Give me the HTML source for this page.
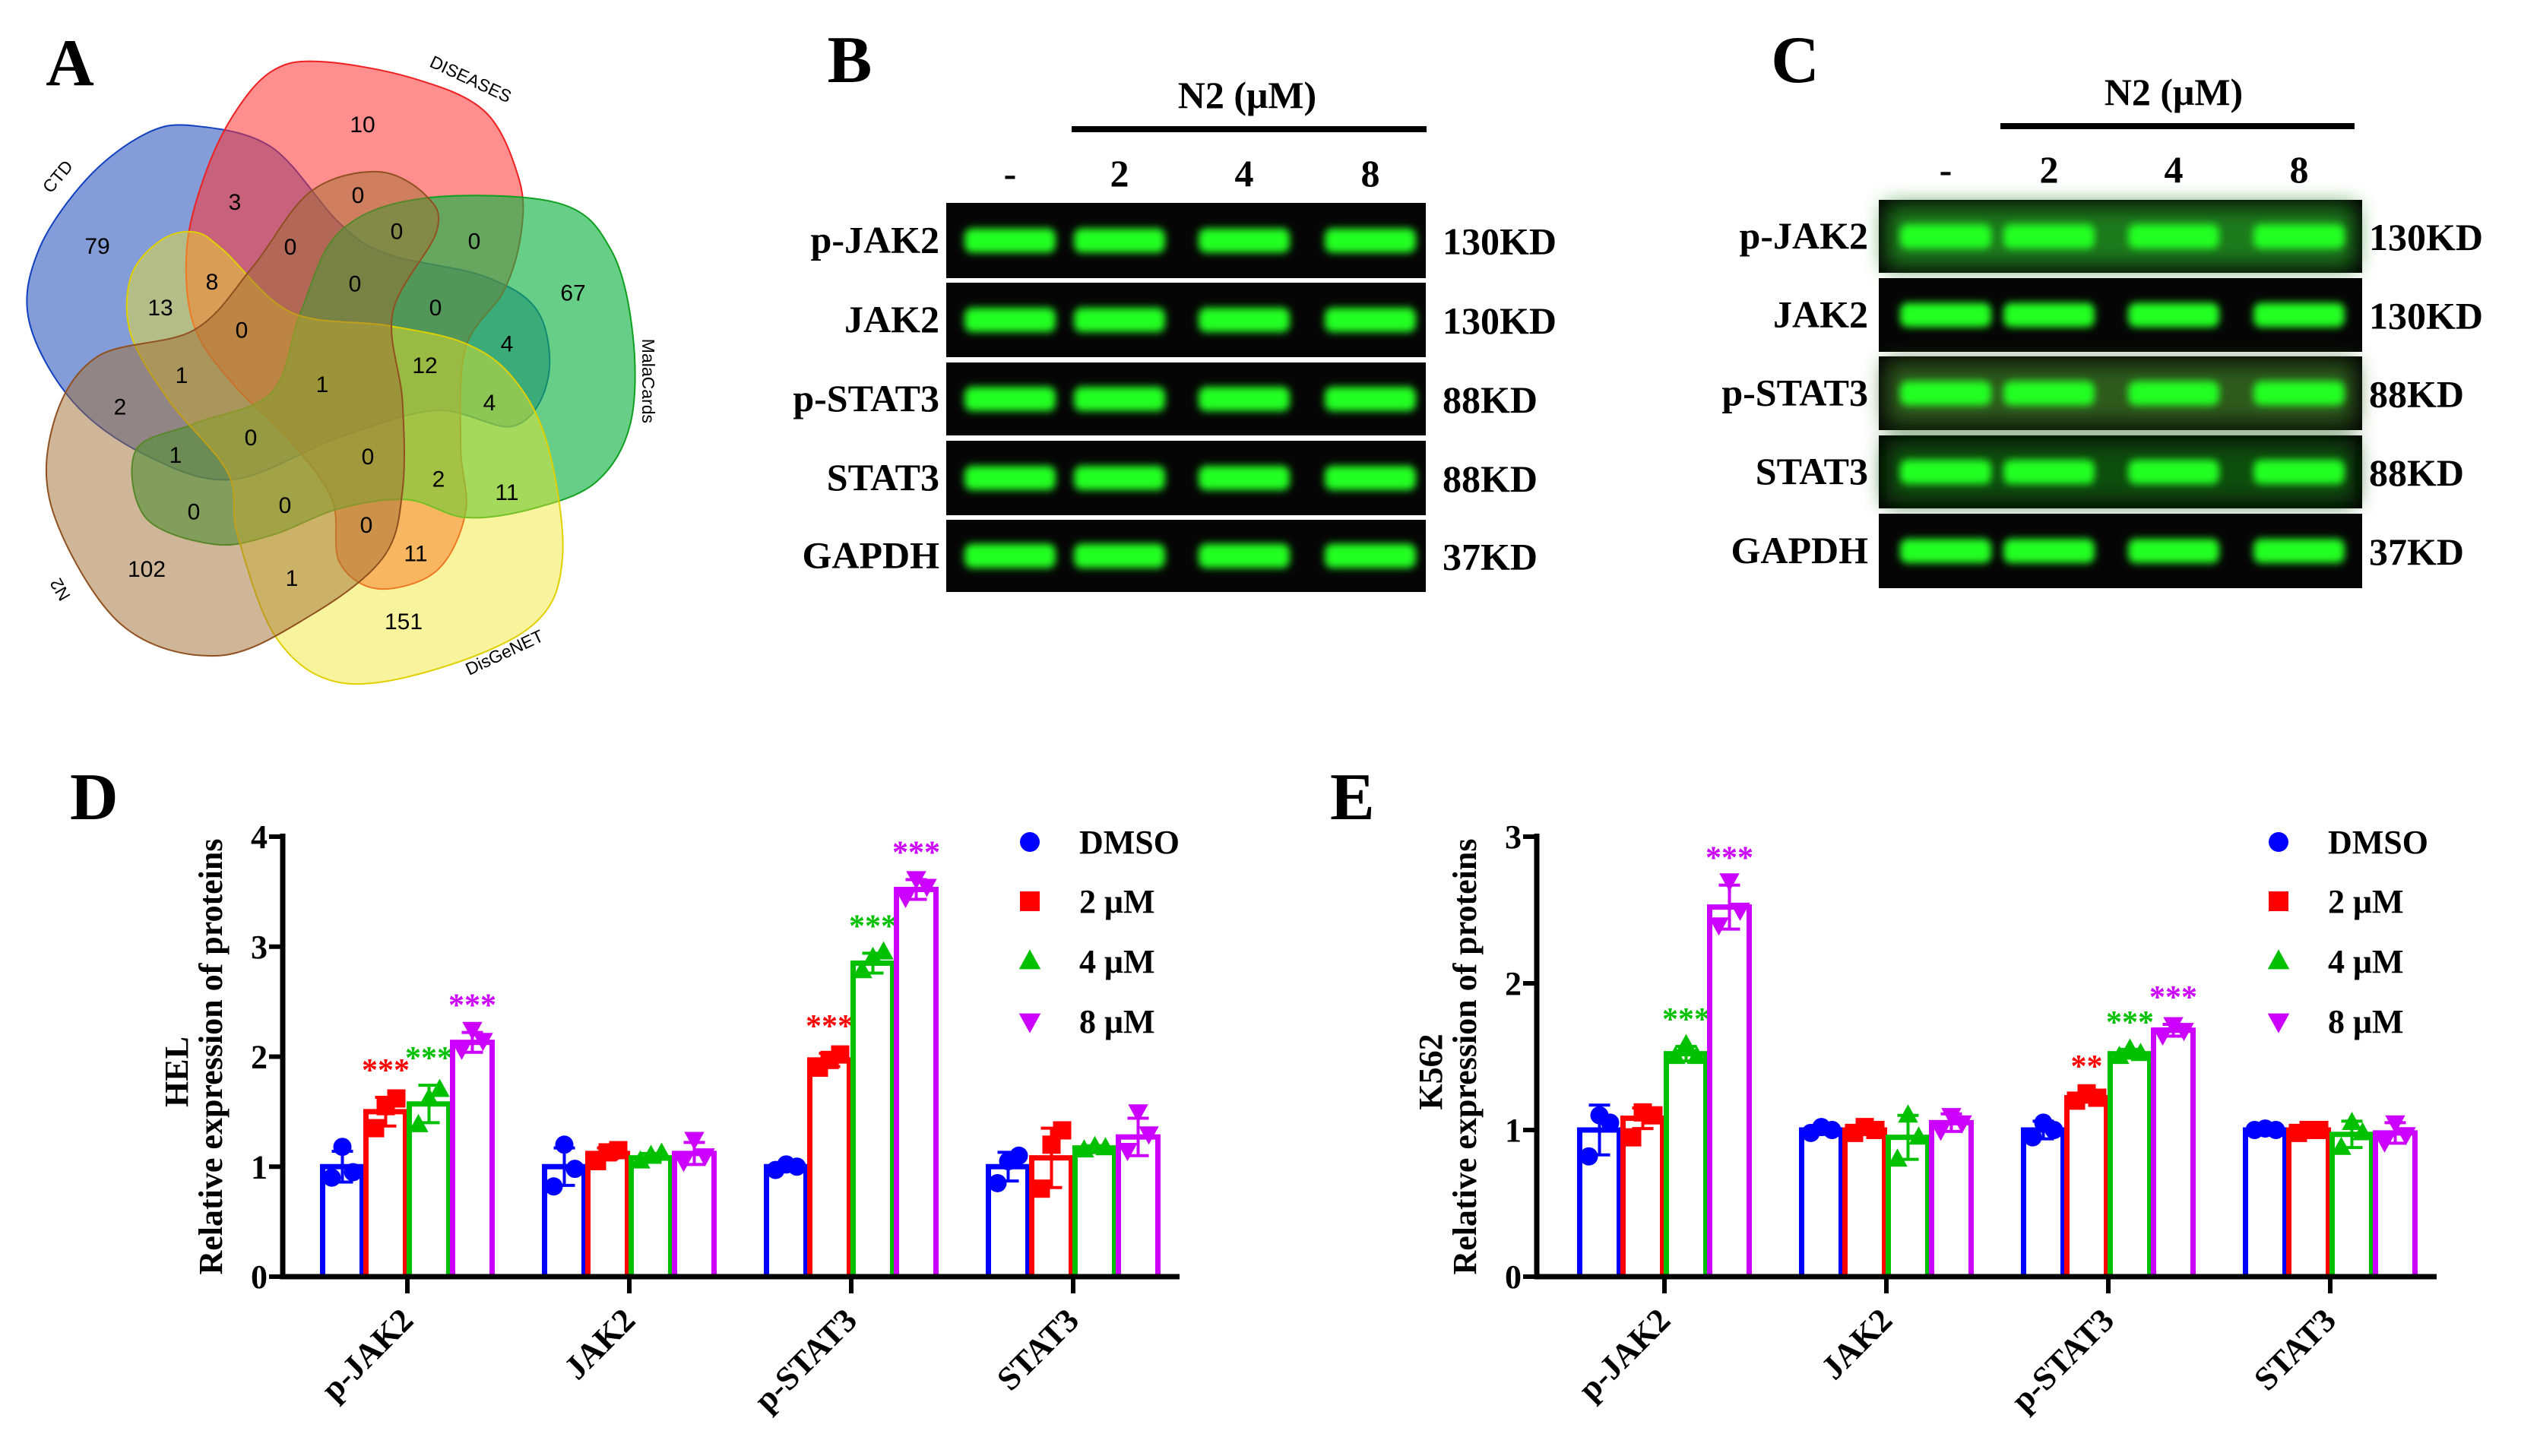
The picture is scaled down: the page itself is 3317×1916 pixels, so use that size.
<!DOCTYPE html>
<html><head><meta charset="utf-8"><style>
html,body{margin:0;padding:0;background:#fff}
svg{display:block}
text{font-family:"Liberation Serif",serif;font-weight:bold}
.v{font-family:"Liberation Sans",sans-serif;font-weight:normal}
</style></head><body>
<svg id="fig" width="3317" height="1916" viewBox="0 0 3317 1916" xmlns="http://www.w3.org/2000/svg">
<defs>
<filter id="blur" x="-20%" y="-50%" width="140%" height="200%"><feGaussianBlur stdDeviation="5"/></filter>
<filter id="blur2" x="-20%" y="-50%" width="140%" height="200%"><feGaussianBlur stdDeviation="14"/></filter>
</defs>
<g id="venn"></g>
<g id="blots"></g>
<g id="chartD"></g>
<g id="chartE"></g>
</svg>
<script>
const NS="http://www.w3.org/2000/svg";
function mk(parent,tag,attrs,txt){const e=document.createElementNS(NS,tag);for(const k in attrs)e.setAttribute(k,attrs[k]);if(txt!==undefined)e.textContent=txt;parent.appendChild(e);return e;}

// ---------- Chart data ----------
const categories=["p-JAK2","JAK2","p-STAT3","STAT3"];
const groups=["DMSO","2 μM","4 μM","8 μM"];
const colors=["#0000ff","#ff0000","#00c000","#cc00ff"];
const helMeans=[[1.0,1.5,1.57,2.13],[1.0,1.12,1.08,1.12],[1.0,1.97,2.85,3.52],[1.0,1.08,1.17,1.27]];
const helErr=[[0.14,0.13,0.17,0.09],[0.17,0.05,0.04,0.1],[0.03,0.06,0.09,0.09],[0.13,0.27,0.02,0.17]];
const helPoints=[[[0.9,1.18,0.95],[1.35,1.55,1.62],[1.38,1.62,1.7],[2.07,2.25,2.15]],
[[0.82,1.2,0.98],[1.05,1.13,1.15],[1.05,1.1,1.12],[1.05,1.25,1.1]],
[[0.97,1.02,1.0],[1.9,1.97,2.02],[2.78,2.9,2.95],[3.45,3.62,3.55]],
[[0.85,1.05,1.1],[0.8,1.2,1.33],[1.15,1.18,1.17],[1.15,1.5,1.3]]];
const helSig=[["","***","***","***"],["","","",""],["","***","***","***"],["","","",""]];
const helTicks=[0,1,2,3,4];
const k562Means=[[1.0,1.08,1.52,2.52],[1.0,1.0,0.95,1.05],[1.0,1.22,1.52,1.68],[1.0,1.0,0.97,0.98]];
const k562Err=[[0.17,0.07,0.05,0.15],[0.03,0.03,0.15,0.06],[0.06,0.03,0.03,0.04],[0.01,0.01,0.09,0.07]];
const k562Points=[[[0.82,1.1,1.05],[0.95,1.12,1.1],[1.5,1.58,1.5],[2.4,2.7,2.5]],
[[0.98,1.02,1.0],[0.98,1.02,1.0],[0.8,1.1,0.95],[1.0,1.1,1.05]],
[[0.95,1.05,1.0],[1.2,1.25,1.22],[1.5,1.55,1.52],[1.65,1.72,1.68]],
[[1.0,1.01,1.0],[0.98,1.0,1.0],[0.88,1.05,0.98],[0.92,1.05,0.97]]];
const k562Sig=[["","","***","***"],["","","",""],["","**","***","***"],["","","",""]];
const k562Ticks=[0,1,2,3];

function marker(g,j,x,y,s,name){
  let e;
  if(j===0)e=mk(g,"circle",{cx:x,cy:y,r:s,fill:colors[0]});
  else if(j===1)e=mk(g,"rect",{x:x-s,y:y-s,width:2*s,height:2*s,fill:colors[1]});
  else if(j===2)e=mk(g,"polygon",{points:`${x},${y-s*1.2} ${x-s*1.1},${y+s*0.8} ${x+s*1.1},${y+s*0.8}`,fill:colors[2]});
  else e=mk(g,"polygon",{points:`${x},${y+s*1.2} ${x-s*1.1},${y-s*0.8} ${x+s*1.1},${y-s*0.8}`,fill:colors[3]});
  
  
  return e;
}

function drawChart(g,cfg){
  const {ax,y0,ytop,ymax,xend,c0,step,means,err,points,sig,ticks,letter,letterX,cell,legX}=cfg;
  const ys=v=>y0-(y0-ytop)*v/ymax;
  const bw=52, off=57;
  let t=mk(g,"text",{x:letterX,y:1078,"font-size":88},letter);
  
  for(let i=0;i<categories.length;i++){
    const cx=c0+step*i;
    for(let j=0;j<4;j++){
      const bx=cx+(j-1.5)*off, m=means[i][j];
      const b=mk(g,"rect",{x:bx-bw/2,y:ys(m),width:bw,height:y0-ys(m),fill:"#fff",stroke:colors[j],"stroke-width":7});
      
      
      const e=err[i][j];
      const eb=mk(g,"path",{d:`M${bx},${ys(m-e)}V${ys(m+e)}M${bx-14},${ys(m+e)}H${bx+14}M${bx-14},${ys(m-e)}H${bx+14}`,stroke:colors[j],"stroke-width":4,fill:"none"});
      
      
      points[i][j].forEach((p,k)=>marker(g,j,bx+(k-1)*14,ys(p),12,'data-point'));
      if(sig[i][j]){
        const s=mk(g,"text",{x:bx,y:ys(m+err[i][j])-22,"font-size":42,"text-anchor":"middle",fill:colors[j]},sig[i][j]);
        
      }
    }
  }
  const a=mk(g,"path",{d:`M${ax},${ytop-4}V${y0}H${xend}`,stroke:"#000","stroke-width":7,fill:"none"});
  
  ticks.forEach(v=>{
    const l=mk(g,"line",{x1:ax-18,x2:ax,y1:ys(v),y2:ys(v),stroke:"#000","stroke-width":6});
    
    const tx=mk(g,"text",{x:ax-20,y:ys(v)+15,"font-size":44,"text-anchor":"end"},String(v));
    
  });
  categories.forEach((c,i)=>{
    const cx=c0+step*i;
    const l=mk(g,"line",{x1:cx,x2:cx,y1:y0,y2:y0+22,stroke:"#000","stroke-width":6});
    
    const tx=mk(g,"text",{x:cx+10,y:y0+60,"font-size":44,"text-anchor":"end",transform:`rotate(-45 ${cx+10} ${y0+60})`},c);
    
  });
  const yl=(y0+ytop)/2+20;
  let t1=mk(g,"text",{x:ax-125,y:yl,"font-size":44,"text-anchor":"middle",transform:`rotate(-90 ${ax-125} ${yl})`},cell);
  
  let t2=mk(g,"text",{x:ax-80,y:yl-20,"font-size":44,"text-anchor":"middle",transform:`rotate(-90 ${ax-80} ${yl-20})`},"Relative expression of proteins");
  
  const ly=[1108,1186,1265,1344];
  groups.forEach((gname,j)=>{
    marker(g,j,legX,ly[j],13,'legend-marker');
    const lt=mk(g,"text",{x:legX+65,y:ly[j]+15,"font-size":44},gname);
    
  });
}
drawChart(document.getElementById('chartD'),{ax:372,y0:1680,ytop:1101,ymax:4,xend:1552,c0:536,step:292,means:helMeans,err:helErr,points:helPoints,sig:helSig,ticks:helTicks,letter:"D",letterX:92,cell:"HEL",legX:1355});
drawChart(document.getElementById('chartE'),{ax:2022,y0:1680,ytop:1101,ymax:3,xend:3206,c0:2190,step:292,means:k562Means,err:k562Err,points:k562Points,sig:k562Sig,ticks:k562Ticks,letter:"E",letterX:1750,cell:"K562",legX:2998});

// ---------- Western blots ----------
const blotRows=["p-JAK2","JAK2","p-STAT3","STAT3","GAPDH"];
const blotKD=["130KD","130KD","88KD","88KD","37KD"];
const lanes=["-","2","4","8"];
function drawBlot(g,cfg){
  const {letter,lx,x1,x2,rows,laneX,lineX1,lineX2,lineY,n2X,laneY,labelX,kdX,haze}=cfg;
  let t=mk(g,"text",{x:lx,y:108,"font-size":88,"text-anchor":"middle"},letter);
  
  t=mk(g,"text",{x:n2X,y:lineY-28,"font-size":50,"text-anchor":"middle"},"N2 (μM)");
  
  const l=mk(g,"rect",{x:lineX1,y:lineY-4,width:lineX2-lineX1,height:8,fill:"#000"});
  
  lanes.forEach((ln,i)=>{const e=mk(g,"text",{x:laneX[i],y:laneY,"font-size":50,"text-anchor":"middle"},ln);
    });
  rows.forEach((r,k)=>{
    const bg=mk(g,"rect",{x:x1,y:r[0],width:x2-x1,height:r[1]-r[0],fill:"#050505"});
    
    const cy=(r[0]+r[1])/2;
    if(haze&&haze[k]){const h=mk(g,"rect",{x:x1+10,y:r[0]+8,width:x2-x1-20,height:r[1]-r[0]-16,fill:haze[k],filter:"url(#blur2)"});}
    laneX.forEach((lx2,i)=>{
      const b=mk(g,"rect",{x:lx2-60,y:cy-16,width:120,height:32,rx:10,fill:"#22ff22",filter:"url(#blur)"});
      
    });
    const lab=mk(g,"text",{x:labelX,y:cy+16,"font-size":50,"text-anchor":"end"},blotRows[k]);
    
    const kd=mk(g,"text",{x:kdX,y:cy+18,"font-size":50},blotKD[k]);
    
  });
}
const B=document.getElementById('blots');
drawBlot(B,{letter:"B",lx:1118,x1:1245,x2:1876,rows:[[267,366],[372,470],[477,573],[580,678],[684,779]],laneX:[1329,1473,1637,1803],lineX1:1410,lineX2:1877,lineY:170,n2X:1641,laneY:245,labelX:1236,kdX:1898});
drawBlot(B,{letter:"C",lx:2362,x1:2472,x2:3108,rows:[[263,359],[366,463],[469,566],[573,669],[676,774]],laneX:[2560,2696,2860,3025],lineX1:2632,lineX2:3098,lineY:166,n2X:2860,laneY:240,labelX:2458,kdX:3117,haze:["#1f7a1f",null,"#2d5a1a","#0e4d0e",null]});

// ---------- Venn ----------
const V=document.getElementById('venn');
const SX=0.638, SY=0.587;
function smooth(pts){
  const p=pts.map(q=>[q[0]*SX,q[1]*SY]);const n=p.length;let d=`M${p[0][0]},${p[0][1]}`;
  for(let i=0;i<n;i++){const p0=p[(i-1+n)%n],p1=p[i],p2=p[(i+1)%n],p3=p[(i+2)%n];
    d+=`C${p1[0]+(p2[0]-p0[0])/6},${p1[1]+(p2[1]-p0[1])/6} ${p2[0]-(p3[0]-p1[0])/6},${p2[1]-(p3[1]-p1[1])/6} ${p2[0]},${p2[1]}`;}
  return d+"Z";
}
const shapes=[
 ["ctd-set",[[400,282],[560,330],[700,500],[800,570],[1000,620],[1110,700],[1130,850],[1060,955],[900,920],[700,980],[480,1075],[300,1020],[150,900],[60,720],[80,560],[180,400],[300,300]],"rgba(50,90,190,0.6)","#1040c0"],
 ["diseases-set",[[660,138],[850,175],[1000,250],[1070,400],[1075,520],[1040,650],[960,780],[950,1000],[960,1150],[900,1280],[780,1320],[700,1260],[685,1120],[600,990],[480,860],[400,730],[385,560],[420,400],[480,260],[560,160]],"rgba(255,50,50,0.55)","#ee2020"],
 ["malacards-set",[[870,445],[1150,455],[1260,560],[1305,750],[1300,950],[1230,1080],[1100,1140],[960,1160],[840,1120],[700,1140],[560,1200],[440,1220],[300,1160],[280,1010],[400,950],[560,880],[620,700],[700,520]],"rgba(20,180,70,0.65)","#10a020"],
 ["disgenet-set",[[400,520],[460,560],[600,700],[800,730],[960,770],[1060,850],[1130,1000],[1160,1250],[1100,1400],[900,1500],[700,1530],[570,1430],[490,1200],[470,1060],[350,900],[270,750],[270,620],[330,540]],"rgba(240,230,40,0.45)","#e0d000"],
 ["n2-set",[[780,385],[880,440],[900,520],[810,700],[830,900],[830,1100],[790,1250],[640,1380],[450,1470],[250,1400],[110,1150],[110,950],[200,800],[400,740],[520,600],[640,430]],"rgba(160,110,50,0.5)","#905020"]
];
shapes.forEach(s=>{const e=mk(V,"path",{d:smooth(s[1]),fill:s[2],stroke:s[3],"stroke-width":2});
  });
const YF=0.92;
const vnums=[[477,177,"10"],[309,288,"3"],[471,278,"0"],[522,330,"0"],[624,344,"0"],[128,351,"79"],[382,352,"0"],[279,402,"8"],[211,439,"13"],[467,405,"0"],[573,439,"0"],[754,418,"67"],[318,471,"0"],[667,491,"4"],[559,522,"12"],[239,536,"1"],[424,549,"1"],[158,581,"2"],[644,575,"4"],[330,625,"0"],[231,650,"1"],[484,652,"0"],[577,684,"2"],[667,703,"11"],[255,731,"0"],[375,722,"0"],[482,750,"0"],[547,791,"11"],[193,813,"102"],[384,826,"1"],[531,888,"151"]];
vnums.forEach(n=>{const e=mk(V,"text",{x:n[0],y:n[1]*YF+11,"font-size":30,"text-anchor":"middle",class:"v"},n[2]);
  });
const vlabels=[[82,258,-50,"CTD"],[616,121,25,"DISEASES"],[845,545,90,"MalaCards"],[86,839,-120,"N2"],[667,941,-25,"DisGeNET"]];
vlabels.forEach(l=>{const y=l[1]*YF;const e=mk(V,"text",{x:l[0],y:y,"font-size":23,"text-anchor":"middle",class:"v",transform:`rotate(${l[2]} ${l[0]} ${y})`},l[3]);
  });
const A=mk(V,"text",{x:92,y:112,"font-size":88,"text-anchor":"middle"},"A");

</script>
</body></html>
